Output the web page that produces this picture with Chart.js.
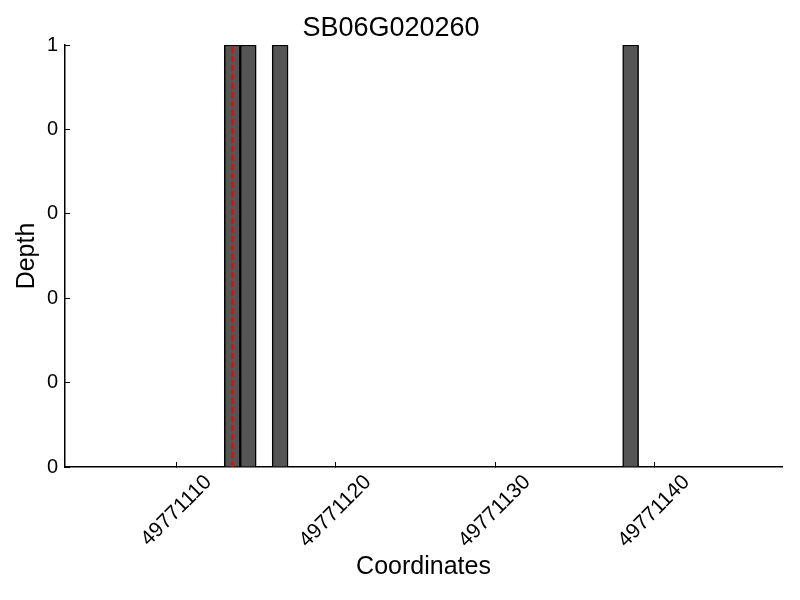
<!DOCTYPE html>
<html>
<head>
<meta charset="utf-8">
<script src="https://cdn.jsdelivr.net/npm/chart.js@4"></script>
<style>
  html, body { margin: 0; padding: 0; background: #fff; }
  #wrap { width: 800px; height: 600px; }
</style>
</head>
<body>
<div id="wrap"><canvas id="depthChart" width="800" height="600"></canvas></div>
<script>
// depth per position (bars are 1 bp wide, starting at the coordinate)
const coordinates = [49771113, 49771114, 49771116, 49771138];
const depths = [1, 1, 1, 1];

// dashed red marker
const markerPosition = 49771113.5;

const xTicks = [49771110, 49771120, 49771130, 49771140];
const xTickLabels = ['49771110', '49771120', '49771130', '49771140'];
const yTicks = [0, 0.2, 0.4, 0.6, 0.8, 1];
const yTickLabels = ['0', '0', '0', '0', '0', '1'];

const FONT = "'Liberation Sans', Arial, Helvetica, sans-serif";

const barPoints = coordinates.map((c, i) => ({ x: c + 0.5, y: depths[i] }));

new Chart(document.getElementById('depthChart').getContext('2d'), {
    type: 'bar',
    data: {
        datasets: [{
            type: 'line',
            data: [{ x: markerPosition, y: 0 }, { x: markerPosition, y: 1 }],
            borderColor: '#ff0000',
            borderWidth: 2.4,
            borderDash: [6, 3],
            pointRadius: 0,
            order: 0
        }, {
            type: 'bar',
            data: barPoints,
            backgroundColor: '#555555',
            borderColor: '#000000',
            borderWidth: 1.5,
            categoryPercentage: 1.0,
            barPercentage: 1.0,
            order: 1
        }]
    },
    options: {
        responsive: false,
        animation: false,
        layout: { padding: { left: 0, right: 18, top: 0, bottom: 0 } },
        plugins: {
            legend: { display: false },
            tooltip: { enabled: false },
            title: {
                display: true,
                text: 'SB06G020260',
                color: '#000',
                font: { family: FONT, size: 27, weight: 'normal', lineHeight: 1.0 },
                padding: { top: 15, bottom: 3 }
            }
        },
        scales: {
            x: {
                type: 'linear',
                offset: false,
                min: 49771103,
                max: 49771148,
                afterBuildTicks: (scale) => { scale.ticks = xTicks.map(v => ({ value: v })); },
                afterFit: (scale) => { scale.height = 133; },
                grid: { offset: false, drawOnChartArea: false, drawTicks: true, tickLength: -5, color: '#000', lineWidth: 1 },
                border: { display: true, color: '#000', width: 1.5 },
                ticks: {
                    autoSkip: false,
                    minRotation: 45,
                    maxRotation: 45,
                    padding: 8,
                    labelOffset: 32,
                    color: '#000',
                    font: { family: FONT, size: 21 },
                    callback: (value, index) => xTickLabels[index]
                },
                title: {
                    display: true,
                    text: 'Coordinates',
                    color: '#000',
                    font: { family: FONT, size: 25, lineHeight: 1.2 },
                    padding: { top: 0, bottom: 18 }
                }
            },
            y: {
                min: 0,
                max: 1,
                afterBuildTicks: (scale) => { scale.ticks = yTicks.map(v => ({ value: v })); },
                afterFit: (scale) => { scale.width = 65; },
                grid: { drawOnChartArea: false, drawTicks: true, tickLength: -5, color: '#000', lineWidth: 1 },
                border: { display: true, color: '#000', width: 1.5 },
                ticks: {
                    padding: 12,
                    color: '#000',
                    font: { family: FONT, size: 20 },
                    callback: (value, index) => yTickLabels[index]
                },
                title: {
                    display: true,
                    text: 'Depth',
                    color: '#000',
                    font: { family: FONT, size: 25, lineHeight: 1.2 },
                    padding: { top: 12, bottom: 0 }
                }
            }
        }
    }
});
</script>
</body>
</html>
